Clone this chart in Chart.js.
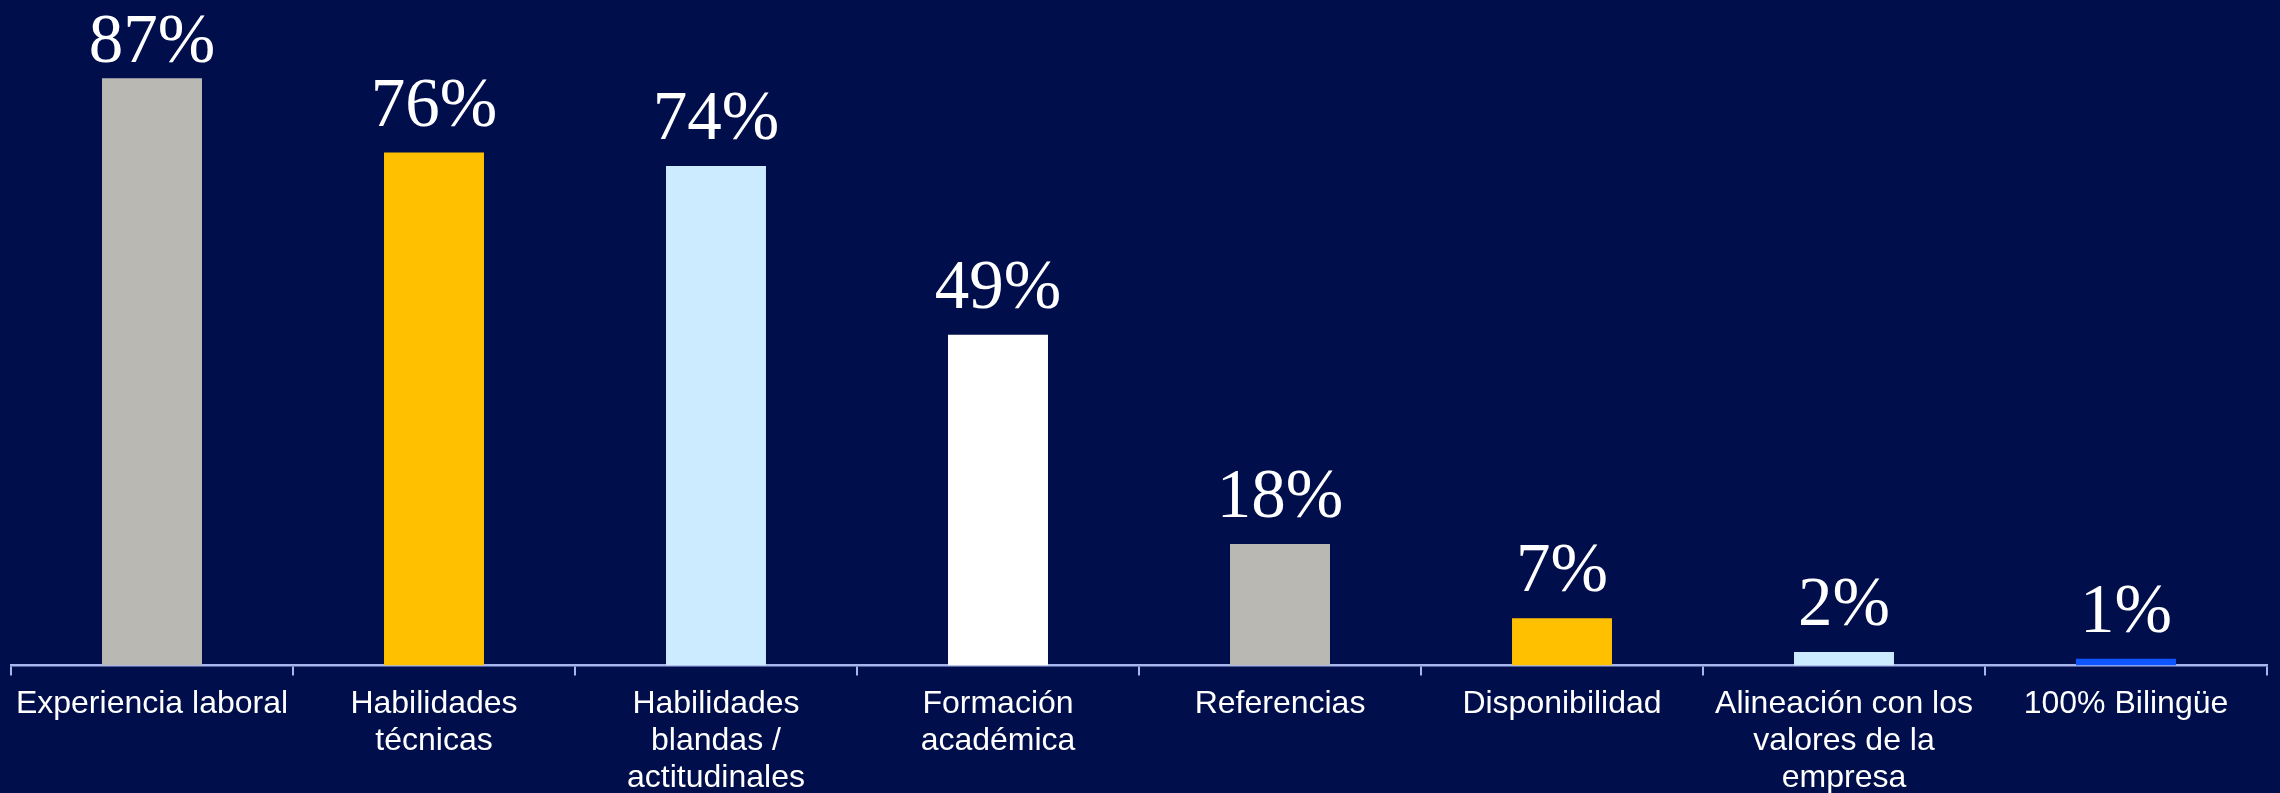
<!DOCTYPE html>
<html>
<head>
<meta charset="utf-8">
<script src="https://cdn.jsdelivr.net/npm/chart.js@4"></script>
<style>
  html, body { margin: 0; padding: 0; background: #000F4B; }
  #wrap { width: 2280px; height: 793px; position: relative; }
</style>
</head>
<body>
<div id="wrap"><canvas id="chart"></canvas></div>
<script>
// Criteria valued when hiring (share of respondents, %)
const categories = [
  'Experiencia laboral',
  ['Habilidades', 'técnicas'],
  ['Habilidades', 'blandas /', 'actitudinales'],
  ['Formación', 'académica'],
  'Referencias',
  'Disponibilidad',
  ['Alineación con los', 'valores de la', 'empresa'],
  '100% Bilingüe'
];
const values = [87, 76, 74, 49, 18, 7, 2, 1];
const valueLabels = ['87%', '76%', '74%', '49%', '18%', '7%', '2%', '1%'];
const barColors = ['#BAB8B3', '#FFC000', '#CDEBFF', '#FFFFFF', '#BAB8B3', '#FFC000', '#CDEBFF', '#0D55FF'];

const AXIS_COLOR = '#A7B6EC';

// Draws the percentage above each bar, kept inside the canvas top
const valueLabelPlugin = {
  id: 'valueLabels',
  afterDatasetsDraw(chart) {
    const ctx = chart.ctx;
    const meta = chart.getDatasetMeta(0);
    ctx.save();
    ctx.font = '69px "Liberation Serif", "Times New Roman", serif';
    ctx.fillStyle = '#FFFFFF';
    ctx.textAlign = 'center';
    ctx.textBaseline = 'alphabetic';
    meta.data.forEach((bar, i) => {
      const y = Math.max(bar.y - 27, chart.chartArea.top + 62);
      ctx.fillText(valueLabels[i], bar.x, y);
    });
    ctx.restore();
  }
};

new Chart(document.getElementById('chart'), {
  type: 'bar',
  data: {
    labels: categories,
    datasets: [{
      data: values,
      backgroundColor: barColors,
      borderWidth: 0,
      barPercentage: 0.709,
      categoryPercentage: 0.5
    }]
  },
  options: {
    responsive: true,
    maintainAspectRatio: false,
    animation: false,
    layout: { padding: { left: 11, right: 13, top: 0, bottom: 0 } },
    plugins: {
      legend: { display: false },
      tooltip: { enabled: false }
    },
    scales: {
      y: {
        display: false,
        min: 0,
        max: 98.6
      },
      x: {
        offset: true,
        grid: {
          offset: true,
          drawOnChartArea: false,
          drawTicks: true,
          tickLength: 10,
          color: AXIS_COLOR,
          lineWidth: 2
        },
        border: { display: true, color: AXIS_COLOR, width: 2.5 },
        ticks: {
          color: '#FFFFFF',
          padding: 10,
          maxRotation: 0,
          autoSkip: false,
          font: { family: '"Liberation Sans", Arial, sans-serif', size: 32, lineHeight: 1.16 }
        },
        afterFit(scale) { scale.height = 127.5; }
      }
    }
  },
  plugins: [valueLabelPlugin]
});
</script>
</body>
</html>
